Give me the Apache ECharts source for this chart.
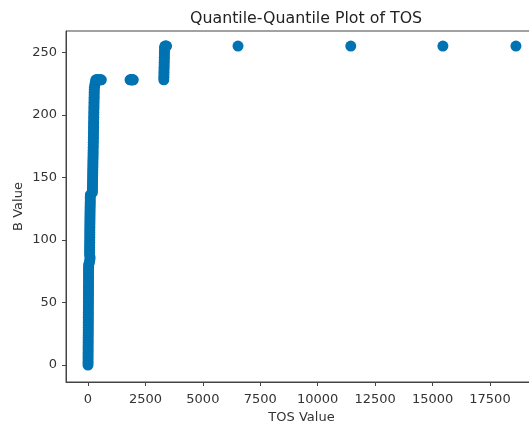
<!DOCTYPE html>
<html>
<head>
<meta charset="utf-8">
<script src="https://cdn.jsdelivr.net/npm/echarts@6/dist/echarts.min.js"></script>
<style>
  html, body { margin: 0; padding: 0; background: #fff; }
  #chart { width: 529px; height: 425px; }
</style>
</head>
<body>
<div id="chart"></div>
<script>
// quantile pairs (TOS quantile, B quantile)
const tosQuantiles = [
  // low column
  0, 1, 2, 3, 3, 4, 5, 5, 6, 7, 7, 8, 9, 9, 10, 11, 11, 12, 13, 13,
  14, 15, 15, 16, 17, 17, 18, 19, 19, 20, 21, 21, 22, 22, 23, 23, 24, 24, 25, 25, 26,
  // middle column
  60, 80, 90, 70, 71, 72, 73, 74, 75, 76, 77, 78, 79, 80, 81, 82, 83, 84, 85, 86,
  88, 90, 92, 94, 96, 97, 98, 100,
  // upper column
  190, 192, 194, 196, 198, 200, 202, 204, 206, 208, 210, 212, 214, 216, 218, 220, 222, 224, 226, 228, 230,
  232, 234, 236, 238, 240, 242, 244, 246, 248, 250, 252, 254, 256, 258, 260, 262, 264, 266, 268, 270, 272,
  // shoulder
  280, 300, 320, 340, 380, 420, 460, 500, 540, 580,
  // blob near 2000
  1830, 1860, 1890, 1920, 1950, 1970,
  // column near 3300
  3300, 3302, 3305, 3307, 3310, 3312, 3315, 3317, 3320, 3322, 3325, 3327, 3330, 3335,
  3350, 3390, 3420,
  // outliers
  6530, 11440, 15450, 18630
];
const bQuantiles = [
  0, 2, 4, 6, 8, 10, 12, 14, 16, 18, 20, 22, 24, 26, 28, 30, 32, 34, 36, 38,
  40, 42, 44, 46, 48, 50, 52, 54, 56, 58, 60, 62, 64, 66, 68, 70, 72, 74, 76, 78, 80,
  82, 84, 86, 88, 90, 92, 94, 96, 98, 100, 102, 104, 106, 108, 110, 112, 114, 116, 118,
  120, 122, 124, 126, 128, 130, 132, 134, 136,
  138, 140, 142, 144, 146, 148, 150, 152, 154, 156, 158, 160, 162, 164, 166, 168, 170, 172, 174, 176, 178,
  180, 182, 184, 186, 188, 190, 192, 194, 196, 198, 200, 202, 204, 206, 208, 210, 212, 214, 216, 218, 220,
  222, 224, 226, 228, 228, 228, 228, 228, 228, 228,
  228, 228, 228, 228, 228, 228,
  228, 230, 232, 234, 236, 238, 240, 242, 244, 246, 248, 250, 252, 254,
  255, 255, 255,
  255, 255, 255, 255
];
const xTicks = [0, 2500, 5000, 7500, 10000, 12500, 15000, 17500];
const yTicks = [0, 50, 100, 150, 200, 250];

const chart = echarts.init(document.getElementById('chart'));
const axisColor = '#444';
const textColor = '#333';
const font = 'DejaVu Sans';

chart.setOption({
  animation: false,
  title: {
    text: 'Quantile-Quantile Plot of TOS',
    left: 185,
    top: 6,
    textStyle: { fontFamily: font, fontSize: 15.8, fontWeight: 'normal', color: '#222' }
  },
  grid: {
    left: 66, top: 31, width: 471, height: 351,
    outerBoundsMode: 'none',
    show: true, borderColor: axisColor, borderWidth: 1
  },
  xAxis: {
    type: 'value',
    min: -958, max: 19547,
    name: 'TOS Value',
    nameLocation: 'middle',
    nameGap: 26,
    nameTextStyle: { fontFamily: font, fontSize: 13, color: textColor },
    axisLine: { show: true, onZero: false, lineStyle: { color: axisColor } },
    axisTick: { show: true, length: 4, lineStyle: { color: axisColor }, customValues: xTicks },
    axisLabel: {
      customValues: xTicks, fontFamily: font, fontSize: 13, color: textColor, margin: 11,
      formatter: v => String(v)
    },
    splitLine: { show: false }
  },
  yAxis: {
    type: 'value',
    min: -13.5, max: 267,
    name: 'B Value',
    nameLocation: 'middle',
    nameMoveOverlap: false,
    nameGap: 41,
    nameTextStyle: { fontFamily: font, fontSize: 13, color: textColor },
    axisLine: { show: true, onZero: false, lineStyle: { color: axisColor } },
    axisTick: { show: true, length: 4, lineStyle: { color: axisColor }, customValues: yTicks },
    axisLabel: {
      customValues: yTicks, fontFamily: font, fontSize: 13, color: textColor, margin: 9,
      formatter: v => String(v)
    },
    splitLine: { show: false }
  },
  series: [{
    type: 'scatter',
    symbol: 'circle',
    symbolSize: 11,
    itemStyle: { color: '#0173b2', opacity: 1 },
    data: tosQuantiles.map((x, i) => [x, bQuantiles[i]])
  }]
});
</script>
</body>
</html>
